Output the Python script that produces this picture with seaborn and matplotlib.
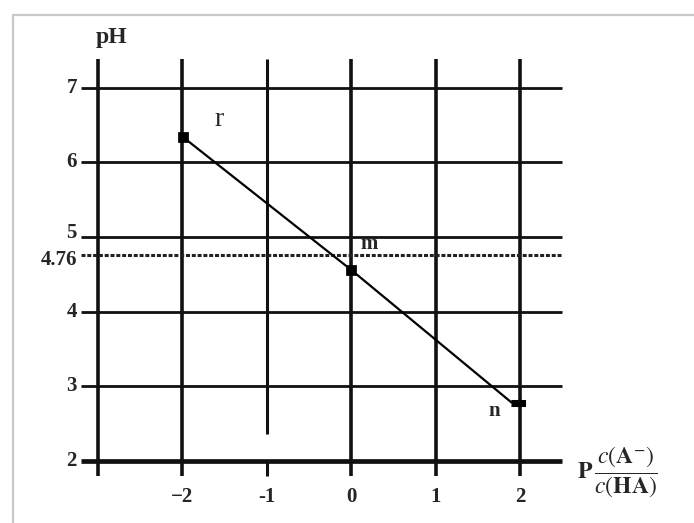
import matplotlib
matplotlib.use("Agg")
import matplotlib.pyplot as plt
from matplotlib.lines import Line2D
import seaborn as sns
import pandas as pd

sns.set_theme(style="white")
plt.rcParams["font.family"] = ["Liberation Serif", "DejaVu Serif"]
plt.rcParams["mathtext.fontset"] = "stix"

# grid / axis values
x_ticks = [-2, -1, 0, 1, 2]
x_tick_labels = ["\u22122", "-1", "0", "1", "2"]
y_ticks = [2, 3, 4, 5, 6, 7]
y_tick_labels = ["2", "3", "4", "5", "6", "7"]
pka = 4.76
pka_label = "4.76"

# titration points r, m, n
point_names = ["r", "m", "n"]
point_x = [-1.99, 0.0, 1.9]
point_ph = [6.34, 4.56, 2.78]

fig = plt.figure(figsize=(6.94, 5.23), dpi=100)
ax = fig.add_axes([0, 0, 1, 1])

ink = "#111111"
x_left, x_right = -3.2, 2.5
y_low, y_top = 1.8, 7.39

# horizontal grid lines (bottom one is the x axis)
for y in y_ticks:
    ax.hlines(y, x_left, x_right, color=ink, lw=3.4 if y == y_ticks[0] else 2.0, zorder=2)

# vertical grid lines (leftmost one is the pH axis)
for x in [-3] + x_ticks:
    if x == -1:
        ax.vlines(x, 2.36, y_top, color=ink, lw=2.2, zorder=2)
        ax.vlines(x, y_low, y_ticks[0], color=ink, lw=2.2, zorder=2)
    else:
        ax.vlines(x, y_low, y_top, color=ink, lw=2.6, zorder=2)

# pKa reference line
ax.hlines(pka, x_left, x_right, color="#222222", lw=2.2,
          linestyles=(0, (1.3, 0.6)), zorder=2)

# titration line
df = pd.DataFrame({"x": point_x, "pH": point_ph, "name": point_names})
sns.lineplot(data=df, x="x", y="pH", sort=False, color="black", lw=1.6,
             ax=ax, zorder=4, legend=False)
sns.scatterplot(data=df.iloc[:2], x="x", y="pH", marker="s", s=45,
                color="black", edgecolor="black", ax=ax, zorder=5, legend=False)
bar = [(-1, -0.4), (1, -0.4), (1, 0.4), (-1, 0.4)]
sns.scatterplot(x=[point_x[2] + 0.08], y=[point_ph[2]], marker=bar, s=90,
                color="black", edgecolor="black", ax=ax, zorder=5, legend=False)
ax.set_xlim(-4.154, 4.059)
ax.set_ylim(1.165, 8.176)
ax.axis("off")

# point letters
fs = 15
ax.text(-1.56, 6.58, point_names[0], fontsize=20, ha="center", va="center")
ax.text(0.21, 4.905, point_names[1], fontsize=fs, ha="center", va="center",
        fontweight="bold")
ax.text(1.70, 2.667, point_names[2], fontsize=fs, ha="center", va="center",
        fontweight="bold")

# tick labels
for y, lab in zip(y_ticks, y_tick_labels):
    yy = y + 0.05 if y == 5 else y
    ax.text(-3.243, yy, lab, fontsize=fs, ha="right", va="center", fontweight="bold")
ax.text(-3.243, pka - 0.07, pka_label, fontsize=fs, ha="right", va="center",
        fontweight="bold")
for x, lab in zip(x_ticks, x_tick_labels):
    ax.text(x, 1.513, lab, fontsize=fs, ha="center", va="center", fontweight="bold")

# axis titles
ax.text(-2.83, 7.68, "pH", fontsize=17, ha="center", va="center", fontweight="bold")
ax.text(2.68, 1.85,
        r"$\mathbf{P}\,\dfrac{\mathit{c}(\mathbf{A}^{-})}{\mathit{c}(\mathbf{HA})}$",
        fontsize=17, ha="left", va="center")

# outer frame
fx = 13 / 694
fy = 1 - 15 / 523
fig.add_artist(Line2D([fx, 1], [fy, fy], transform=fig.transFigure,
                      color="#c8c8c8", lw=1.6))
fig.add_artist(Line2D([fx, fx], [0, fy], transform=fig.transFigure,
                      color="#c8c8c8", lw=1.6))

fig.savefig("out.png", dpi=100)
